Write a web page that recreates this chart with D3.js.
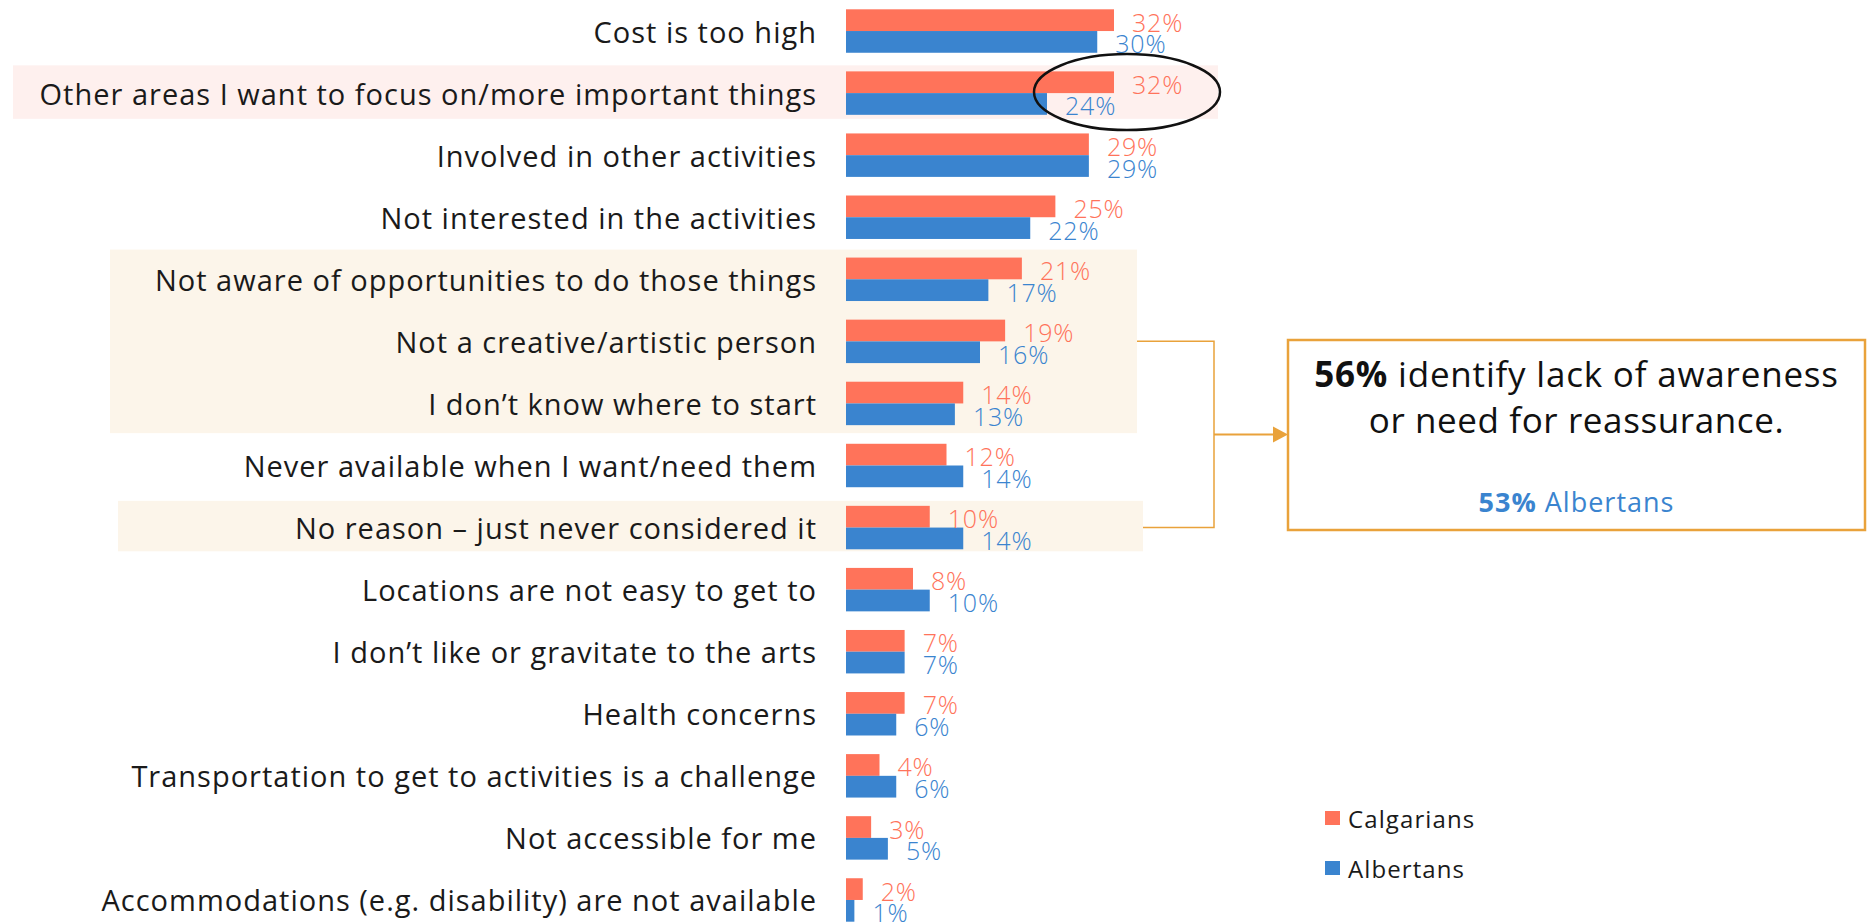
<!DOCTYPE html>
<html>
<head>
<meta charset="utf-8">
<script src="https://cdn.jsdelivr.net/npm/d3@7"></script>
<style>
  html, body { margin: 0; padding: 0; background: #ffffff; }
  svg { display: block; }
  text { font-family: "Open Sans", Lato, "DejaVu Sans", sans-serif; }
</style>
</head>
<body>
<svg id="chart" width="1869" height="922"></svg>
<script>
const categories = [
  "Cost is too high",
  "Other areas I want to focus on/more important things",
  "Involved in other activities",
  "Not interested in the activities",
  "Not aware of opportunities to do those things",
  "Not a creative/artistic person",
  "I don’t know where to start",
  "Never available when I want/need them",
  "No reason – just never considered it",
  "Locations are not easy to get to",
  "I don’t like or gravitate to the arts",
  "Health concerns",
  "Transportation to get to activities is a challenge",
  "Not accessible for me",
  "Accommodations (e.g. disability) are not available"
];
const seriesNames = ["Calgarians", "Albertans"];
const calgarians = [32, 32, 29, 25, 21, 19, 14, 12, 10, 8, 7, 7, 4, 3, 2];
const albertans  = [30, 24, 29, 22, 17, 16, 13, 14, 14, 10, 7, 6, 6, 5, 1];
const calloutMain = ["56%", " identify lack of awareness", "or need for reassurance."];
const calloutSub = ["53%", " Albertans"];

const colors = { Calgarians: "#FF735A", Albertans: "#3A84CF" };

const svg = d3.select("#chart");

const x = d3.scaleLinear().domain([0, 32]).range([846, 1114]);
const y = d3.scaleBand().domain(categories).range([0, 931]).paddingInner(0.3).paddingOuter(0.15);
const ySub = d3.scaleBand().domain(seriesNames).range([0, y.bandwidth()]);

// highlight backgrounds
const bg = svg.append("g");
const rowTop = c => y(c);
const rowBot = c => y(c) + y.bandwidth();
bg.append("rect")
  .attr("x", 13).attr("y", rowTop(categories[1]) - 6)
  .attr("width", 1218 - 13).attr("height", rowBot(categories[1]) + 4 - (rowTop(categories[1]) - 6))
  .attr("fill", "#FEF0EE");
bg.append("rect")
  .attr("x", 110).attr("y", rowTop(categories[4]) - 8)
  .attr("width", 1137 - 110).attr("height", rowBot(categories[6]) + 8 - (rowTop(categories[4]) - 8))
  .attr("fill", "#FCF5EA");
bg.append("rect")
  .attr("x", 118).attr("y", rowTop(categories[8]) - 5)
  .attr("width", 1143 - 118).attr("height", rowBot(categories[8]) + 2 - (rowTop(categories[8]) - 5))
  .attr("fill", "#FCF5EA");

// data rows
const rows = categories.map((c, i) => ({ cat: c, vals: [
  { s: "Calgarians", v: calgarians[i] },
  { s: "Albertans", v: albertans[i] }
]}));

const g = svg.append("g");
const rowG = g.selectAll("g.row").data(rows).join("g")
  .attr("class", "row")
  .attr("transform", d => `translate(0,${y(d.cat)})`);

rowG.selectAll("rect").data(d => d.vals).join("rect")
  .attr("x", x(0))
  .attr("y", d => ySub(d.s))
  .attr("width", d => x(d.v) - x(0))
  .attr("height", ySub.bandwidth())
  .attr("fill", d => colors[d.s]);

rowG.selectAll("text.val").data(d => d.vals).join("text")
  .attr("class", "val")
  .attr("x", d => x(d.v) + 18)
  .attr("y", d => ySub(d.s) + ySub.bandwidth() / 2 + 1.5)
  .attr("dominant-baseline", "central")
  .attr("font-size", 25)
  .attr("letter-spacing", 0.8)
  .attr("font-weight", 300)
  .attr("fill", d => colors[d.s])
  .text(d => d.v + "%");

// category labels
g.selectAll("text.cat").data(categories).join("text")
  .attr("class", "cat")
  .attr("x", 817)
  .attr("y", d => y(d) + y.bandwidth() / 2)
  .attr("dominant-baseline", "central")
  .attr("text-anchor", "end")
  .attr("font-size", 29)
  .attr("letter-spacing", 1)
  .attr("fill", "#1a1a1a")
  .text(d => d);

// ellipse highlight
const c1 = y(categories[1]) + y.bandwidth() / 2;
svg.append("ellipse")
  .attr("cx", 1127).attr("cy", c1 - 1)
  .attr("rx", 93).attr("ry", 38)
  .attr("fill", "none").attr("stroke", "#111").attr("stroke-width", 2.5);

// connector bracket
const orange = "#E9A23B";
const yTop = y(categories[5]) + y.bandwidth() / 2;
const yBot = y(categories[8]) + y.bandwidth() / 2;
const yMid = (yTop + yBot) / 2;
svg.append("path")
  .attr("d", `M1137,${yTop} H1214 V${yBot} H1143`)
  .attr("fill", "none").attr("stroke", orange).attr("stroke-width", 1.5);
svg.append("path")
  .attr("d", `M1214,${yMid} H1275`)
  .attr("fill", "none").attr("stroke", orange).attr("stroke-width", 2);
svg.append("path")
  .attr("d", `M1273,${yMid - 8} L1288,${yMid} L1273,${yMid + 8} Z`)
  .attr("fill", orange);

// callout box
svg.append("rect")
  .attr("x", 1288).attr("y", 340)
  .attr("width", 1865 - 1288).attr("height", 530 - 340)
  .attr("fill", "#fff").attr("stroke", orange).attr("stroke-width", 2.5);

const cx = (1288 + 1865) / 2;
const t1 = svg.append("text").attr("x", cx).attr("y", 373)
  .attr("text-anchor", "middle").attr("dominant-baseline", "central")
  .attr("font-size", 35).attr("letter-spacing", 0.8).attr("fill", "#111");
t1.append("tspan").attr("font-weight", 700).text(calloutMain[0]);
t1.append("tspan").text(calloutMain[1]);
svg.append("text").attr("x", cx).attr("y", 419)
  .attr("text-anchor", "middle").attr("dominant-baseline", "central")
  .attr("font-size", 35).attr("letter-spacing", 0.6).attr("fill", "#111")
  .text(calloutMain[2]);
const t3 = svg.append("text").attr("x", cx).attr("y", 501)
  .attr("text-anchor", "middle").attr("dominant-baseline", "central")
  .attr("font-size", 27).attr("letter-spacing", 1).attr("fill", colors.Albertans);
t3.append("tspan").attr("font-weight", 700).text(calloutSub[0]);
t3.append("tspan").text(calloutSub[1]);

// legend
const legend = svg.append("g");
const legY = d3.scalePoint().domain(seriesNames).range([818, 868]);
legend.selectAll("rect").data(seriesNames).join("rect")
  .attr("x", 1325).attr("y", d => legY(d) - 7)
  .attr("width", 15).attr("height", 14)
  .attr("fill", d => colors[d]);
legend.selectAll("text").data(seriesNames).join("text")
  .attr("x", 1348).attr("y", d => legY(d))
  .attr("dominant-baseline", "central")
  .attr("font-size", 24).attr("letter-spacing", 1.1).attr("fill", "#1a1a1a")
  .text(d => d);
</script>
</body>
</html>
